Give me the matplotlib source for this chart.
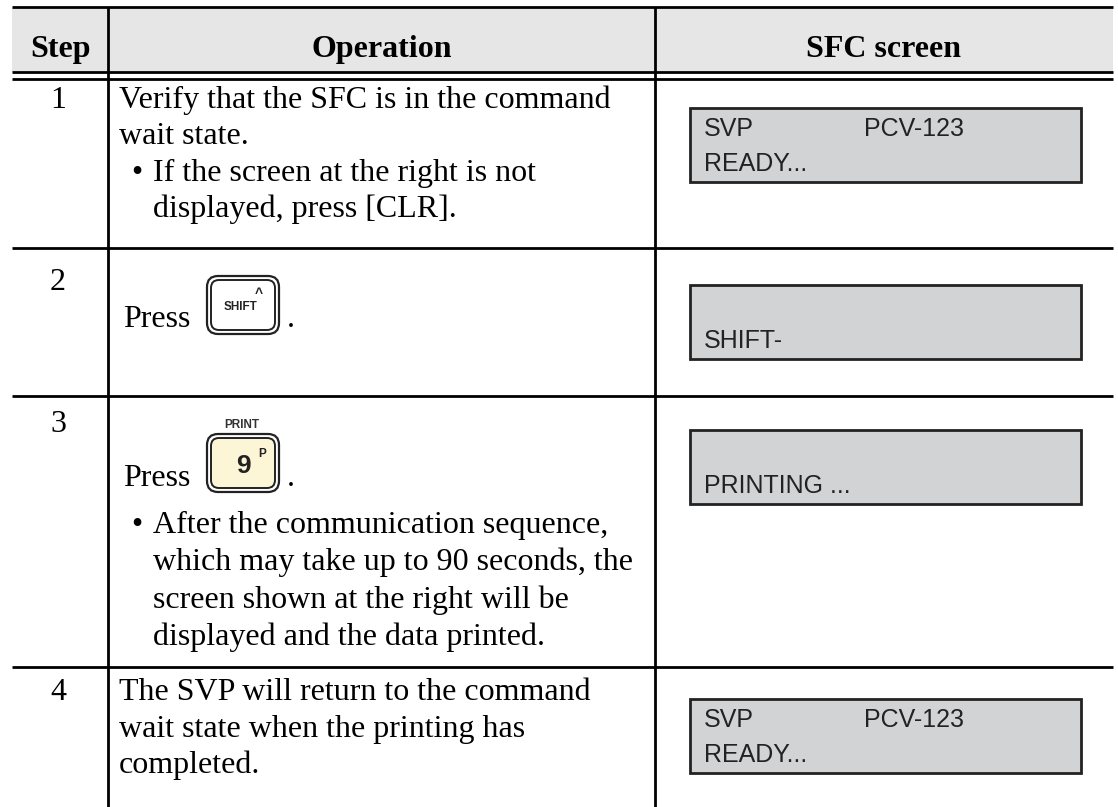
import matplotlib
matplotlib.use("Agg")
import matplotlib.pyplot as plt
from matplotlib.patches import FancyBboxPatch, Rectangle

# ---- content ----
headers = ["Step", "Operation", "SFC screen"]
steps = ["1", "2", "3", "4"]
row1_lines = ["Verify that the SFC is in the command", "wait state."]
row1_bullet = ["If the screen at the right is not", "displayed, press [CLR]."]
row3_bullet = ["After the communication sequence,",
               "which may take up to 90 seconds, the",
               "screen shown at the right will be",
               "displayed and the data printed."]
row4_lines = ["The SVP will return to the command",
              "wait state when the printing has",
              "completed."]
screens = [("SVP", "PCV-123", "READY..."),
           ("", "", "SHIFT-"),
           ("", "", "PRINTING ..."),
           ("SVP", "PCV-123", "READY...")]

# ---- layout (pixel space) ----
W, H = 1118, 807
fig = plt.figure(figsize=(W / 100, H / 100), dpi=100)
ax = fig.add_axes([0, 0, 1, 1])
ax.set_xlim(0, W)
ax.set_ylim(H, 0)
ax.axis("off")

SERIF = ["Liberation Serif", "DejaVu Serif"]
SANS = ["Liberation Sans", "DejaVu Sans"]
FS = 23
SFS = 18
LW = 2.0

x_left, x_right = 12, 1113
x_d1, x_d2 = 108, 655
y_top, y_h1, y_h2 = 7, 72, 79
row_bottoms = [248, 396, 667]
LS = 36.5

# header background
ax.add_patch(Rectangle((x_left, y_top), x_right - x_left, y_h1 - y_top,
                       facecolor="#e6e6e6", edgecolor="none", zorder=0))
for y in [y_top, y_h1, y_h2] + row_bottoms:
    ax.plot([x_left, x_right], [y, y], color="black", lw=LW,
            solid_capstyle="butt", zorder=3)
for x in [x_d1, x_d2]:
    ax.plot([x, x], [y_top, H], color="black", lw=LW,
            solid_capstyle="butt", zorder=3)

hx = [(x_left + x_d1) / 2, (x_d1 + x_d2) / 2, (x_d2 + x_right) / 2]
for t, x in zip(headers, hx):
    ax.text(x, 57, t, family=SERIF, fontsize=FS, fontweight="bold",
            ha="center", va="baseline")

def txt(x, y, s, **kw):
    ax.text(x, y, s, family=SERIF, fontsize=FS, ha="left", va="baseline", **kw)

xs = 58
xt = 119
xb = 131
xbt = 153

# row 1
ax.text(xs, 108, steps[0], family=SERIF, fontsize=FS, ha="center", va="baseline")
txt(xt, 108, row1_lines[0])
txt(xt, 108 + LS, row1_lines[1])
txt(xb, 108 + 2 * LS, "•")
txt(xbt, 108 + 2 * LS, row1_bullet[0])
txt(xbt, 108 + 3 * LS, row1_bullet[1])

def key(x0, y0, w, h, fill):
    ax.add_patch(FancyBboxPatch((x0, y0), w, h,
                                boxstyle="round,pad=0,rounding_size=11",
                                facecolor="white", edgecolor="#222222",
                                lw=1.6, zorder=4))
    ax.add_patch(FancyBboxPatch((x0 + 4, y0 + 4), w - 8, h - 8,
                                boxstyle="round,pad=0,rounding_size=8",
                                facecolor=fill, edgecolor="#222222",
                                lw=1.4, zorder=5))

# row 2
ax.text(xs, 290, steps[1], family=SERIF, fontsize=FS, ha="center", va="baseline")
txt(xt + 4, 327, "Press")
key(207, 276, 72, 58, "white")
ax.text(241, 310, "SHIFT", family=SANS, fontsize=8.5, fontweight="bold",
        ha="center", va="baseline", color="#222222", zorder=6)
ax.text(259, 298, "^", family=SANS, fontsize=10, fontweight="bold",
        ha="center", va="baseline", color="#222222", zorder=6)
txt(287, 327, ".")

# row 3
ax.text(xs, 432, steps[2], family=SERIF, fontsize=FS, ha="center", va="baseline")
ax.text(242, 428, "PRINT", family=SANS, fontsize=8.5, fontweight="bold",
        ha="center", va="baseline", color="#333333")
key(207, 434, 72, 58, "#fdf6d6")
ax.text(243, 473, "9", family=SANS, fontsize=19, fontweight="bold",
        ha="center", va="baseline", color="#222222", zorder=6)
ax.text(262, 457, "P", family=SANS, fontsize=8.5, fontweight="bold",
        ha="center", va="baseline", color="#222222", zorder=6)
txt(xt + 4, 486, "Press")
txt(287, 486, ".")
y = 533
txt(xb, y, "•")
for i, line in enumerate(row3_bullet):
    txt(xbt, y + i * 37.3, line)

# row 4
ax.text(xs, 700, steps[3], family=SERIF, fontsize=FS, ha="center", va="baseline")
for i, line in enumerate(row4_lines):
    txt(xt, 700 + i * LS, line)

# SFC screens
box_tops = [108, 285, 430, 699]
bx0, bx1, bh = 690, 1081, 74
for top, (a, b, c) in zip(box_tops, screens):
    ax.add_patch(Rectangle((bx0, top), bx1 - bx0, bh, facecolor="#d1d3d4",
                           edgecolor="#222222", lw=2.0, zorder=4))
    if a:
        ax.text(704, top + 28, a, family=SANS, fontsize=SFS, ha="left",
                va="baseline", color="#222222", zorder=6)
    if b:
        ax.text(864, top + 28, b, family=SANS, fontsize=SFS, ha="left",
                va="baseline", color="#222222", zorder=6)
    ax.text(704, top + 63, c, family=SANS, fontsize=SFS, ha="left",
            va="baseline", color="#222222", zorder=6)

fig.savefig("out.png", dpi=100, facecolor="white")
